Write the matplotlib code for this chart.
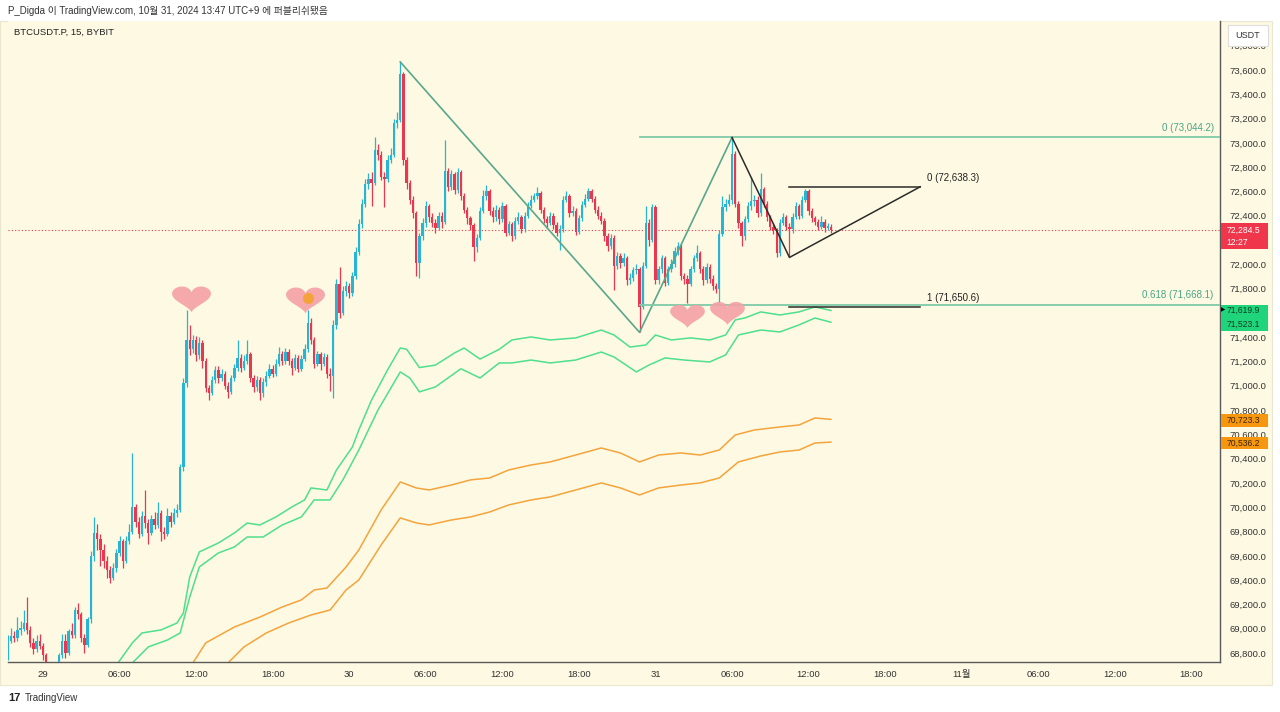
import numpy as np
import matplotlib.pyplot as plt
from matplotlib.path import Path
from matplotlib.patches import Rectangle

plt.rcParams['font.family'] = ['Liberation Sans', 'Noto Sans CJK KR']

# BTCUSDT.P 15분봉 (bar index 0 = 10/29 00:00, 첫 봉 = -11)
first_bar = -11
first_open = 68780
closes = [
    68900, 68940, 68920, 68990, 69000, 69050, 68990, 68880, 68830, 68900,
    68860, 68780, 68700, 68640, 68620, 68680, 68780, 68900, 68800, 68980,
    68950, 69150, 69120, 68920, 68870, 69080, 69600, 69790, 69740, 69650,
    69560, 69480, 69420, 69500, 69620, 69720, 69560, 69720, 69800, 70000,
    69880, 69780, 69930, 69870, 69790, 69900, 69850, 69950, 69800, 69780,
    69930, 69880, 69950, 69980, 70330, 71020, 71380, 71300, 71380, 71250,
    71350, 71200, 70980, 70940, 71050, 71130, 71060, 71100, 71000, 70950,
    71060, 71150, 71230, 71150, 71200, 71260, 71060, 70990, 71050, 70940,
    71030, 71080, 71140, 71100, 71180, 71260, 71200, 71280, 71200, 71150,
    71230, 71140, 71220, 71300, 71520, 71380, 71180, 71260, 71180, 71240,
    71100, 71080, 71500, 71840, 71600, 71780, 71820, 71760, 71900, 72100,
    72330, 72500, 72660, 72700, 72670, 72940, 72900, 72720, 72700, 72860,
    72900, 73160, 73190, 73570, 72860, 72670, 72530, 72420, 72010, 72230,
    72340, 72480, 72390, 72340, 72300, 72400, 72350, 72770, 72640, 72740,
    72610, 72760, 72560, 72450, 72380, 72320, 72140, 72220, 72440, 72560,
    72600, 72440, 72390, 72450, 72370, 72480, 72260, 72330, 72230, 72360,
    72390, 72290, 72400, 72480, 72530, 72560, 72590, 72450, 72370, 72340,
    72400, 72320, 72260, 72290, 72530, 72560, 72420, 72440, 72270, 72380,
    72490, 72540, 72600, 72540, 72450, 72400, 72360, 72230, 72150, 72220,
    71990, 72070, 72010, 72050, 71870, 71890, 71950, 71960, 71650, 71990,
    72340, 72200, 72470, 71870, 71960, 72050, 71850, 71960, 72000, 72110,
    72150, 71900, 71880, 71840, 71960, 72050, 72090, 71960, 71870, 71980,
    71880, 71820, 71800, 72250, 72470, 72500, 72530, 72910, 72500, 72340,
    72230, 72370, 72480, 72520, 72530, 72420, 72620, 72500, 72390, 72310,
    72280, 72090, 72340, 72390, 72310, 72290, 72390, 72480, 72400, 72530,
    72600, 72440, 72380, 72350, 72310, 72350, 72300, 72310, 72284.5,
]
highs = [
    68950, 69010, 68980, 69100, 69060, 69150, 69260, 69020, 68920, 68950,
    68960, 68880, 68800, 68720, 68680, 68710, 68800, 68960, 68960, 69000,
    69050, 69180, 69210, 69140, 68960, 69100, 69640, 69920, 69860, 69780,
    69700, 69600, 69520, 69540, 69660, 69760, 69740, 69760, 69860, 70450,
    70030, 69920, 69970, 70140, 69900, 69940, 69960, 70040, 69980, 69840,
    69990, 69960, 69990, 70030, 70360, 71060, 71620, 71500, 71420, 71410,
    71400, 71380, 71230, 71010, 71080, 71160, 71160, 71140, 71120, 71030,
    71090, 71180, 71380, 71260, 71250, 71380, 71280, 71090, 71080, 71070,
    71060, 71120, 71180, 71170, 71220, 71320, 71290, 71310, 71300, 71230,
    71260, 71250, 71250, 71340, 71620, 71560, 71400, 71290, 71280, 71270,
    71260, 71150, 71540, 71880, 71980, 71820, 71860, 71850, 71940, 72140,
    72370, 72540, 72700, 72750, 72760, 73050, 72990, 72930, 72760, 72900,
    72960, 73200, 73250, 73666, 73580, 72880, 72690, 72560, 72440, 72260,
    72380, 72520, 72500, 72420, 72370, 72430, 72430, 73020, 72790, 72780,
    72760, 72790, 72780, 72590, 72470, 72400, 72340, 72250, 72470, 72610,
    72650, 72620, 72470, 72490, 72470, 72510, 72500, 72360, 72350, 72390,
    72430, 72410, 72430, 72510, 72570, 72590, 72640, 72600, 72470, 72400,
    72430, 72420, 72350, 72320, 72560, 72600, 72580, 72480, 72460, 72410,
    72520, 72580, 72630, 72620, 72560, 72480, 72430, 72380, 72260, 72250,
    72240, 72100, 72090, 72090, 72070, 71930, 71980, 72000, 71980, 72020,
    72480, 72370, 72500, 72490, 71990, 72080, 72070, 71990, 72040, 72140,
    72180, 72170, 71930, 71910, 71990, 72080, 72160, 72110, 71990, 72010,
    72000, 71910, 71850, 72280, 72560, 72540, 72580, 73044.2, 72930, 72520,
    72360, 72400, 72510, 72720, 72570, 72560, 72750, 72640, 72520, 72410,
    72340, 72300, 72370, 72420, 72410, 72340, 72420, 72510, 72500, 72560,
    72620, 72620, 72460, 72400, 72370, 72400, 72370, 72340, 72330,
]
lows = [
    68740, 68880, 68890, 68900, 68950, 68980, 68960, 68850, 68790, 68810,
    68830, 68740, 68660, 68600, 68580, 68600, 68660, 68760, 68760, 68780,
    68920, 68920, 69080, 68890, 68800, 68850, 69050, 69560, 69650, 69520,
    69500, 69420, 69380, 69400, 69470, 69600, 69500, 69540, 69700, 69780,
    69840, 69750, 69760, 69830, 69700, 69770, 69820, 69830, 69720, 69740,
    69760, 69840, 69860, 69920, 69960, 70300, 70990, 71250, 71270, 71200,
    71220, 71150, 70950, 70880, 70920, 71020, 71020, 71040, 70970, 70900,
    70930, 71040, 71120, 71110, 71130, 71180, 71030, 70950, 70960, 70880,
    70910, 71000, 71060, 71070, 71080, 71160, 71170, 71180, 71170, 71090,
    71130, 71110, 71120, 71200, 71280, 71340, 71150, 71160, 71130, 71160,
    71060, 70960, 70900, 71470, 71560, 71580, 71740, 71720, 71740, 71880,
    72080, 72300, 72470, 72620, 72480, 72650, 72860, 72690, 72470, 72680,
    72830, 72880, 73120, 73170, 72820, 72620, 72500, 72380, 71900, 71890,
    72200, 72310, 72350, 72310, 72260, 72280, 72300, 72330, 72600, 72610,
    72580, 72590, 72530, 72420, 72330, 72280, 72030, 72100, 72200, 72420,
    72530, 72410, 72350, 72360, 72330, 72350, 72230, 72240, 72190, 72210,
    72330, 72260, 72270, 72380, 72460, 72510, 72540, 72420, 72340, 72300,
    72320, 72290, 72230, 72120, 72270, 72510, 72390, 72400, 72240, 72250,
    72360, 72470, 72520, 72510, 72420, 72370, 72330, 72190, 72110, 72130,
    71790, 71960, 71970, 71990, 71830, 71840, 71860, 71920, 71440, 71630,
    71970, 72150, 72180, 71840, 71840, 71930, 71820, 71830, 71940, 71980,
    72080, 71870, 71840, 71680, 71820, 71940, 72030, 71930, 71830, 71850,
    71850, 71790, 71760, 71680, 72230, 72440, 72480, 72500, 72470, 72300,
    72150, 72200, 72350, 72450, 72480, 72390, 72400, 72470, 72360, 72280,
    72250, 72060, 72070, 72320, 72280, 72056.5, 72260, 72370, 72370, 72380,
    72510, 72410, 72350, 72320, 72280, 72290, 72270, 72280, 72260,
]

# 밴드 (bar index, 가격)
green_hi_idx = [23, 28, 31, 37, 42, 44, 46, 49, 55, 60, 64, 68, 73, 78, 82, 84, 89, 92, 97, 99,
                103, 108, 112, 114, 118, 123, 129, 132, 137, 143, 147, 153, 159, 167, 175, 179,
                184, 189, 192, 197, 203, 209, 214, 217, 220, 225, 231, 237, 242, 247]
green_hi = [68700, 68883, 68965, 68990, 69047, 69130, 69426, 69632, 69706, 69788,
            69870, 69854, 69920, 70002, 70060, 70159, 70142, 70307, 70496, 70636,
            70883, 71130, 71311, 71300, 71150, 71170, 71270, 71311, 71220, 71300,
            71377, 71402, 71377, 71394, 71459, 71418, 71319, 71336, 71418, 71377,
            71394, 71377, 71418, 71542, 71558, 71608, 71583, 71608, 71649, 71619.9]
green_lo_idx = [28, 33, 39, 43, 46, 49, 55, 60, 64, 69, 75, 81, 85, 90, 94, 99, 105, 112, 115, 118,
                123, 131, 137, 143, 147, 153, 159, 167, 175, 179, 186, 190, 195, 201, 209, 214,
                218, 225, 231, 237, 242, 247]
green_lo = [68718, 68850, 68907, 68965, 69261, 69508, 69624, 69673, 69755, 69755,
            69854, 69920, 70060, 70060, 70225, 70471, 70800, 71114, 71064, 70950,
            70990, 71140, 71064, 71188, 71188, 71212, 71188, 71212, 71278, 71237,
            71114, 71171, 71229, 71212, 71196, 71254, 71418, 71459, 71443, 71501,
            71558, 71523.1]
orange_hi_idx = [47, 51, 60, 68, 75, 81, 85, 89, 95, 99, 106, 112, 117, 121, 128, 134, 140, 146,
                 153, 159, 167, 175, 181, 187, 193, 200, 206, 212, 217, 223, 231, 237, 242, 247]
orange_hi = [68718, 68883, 69014, 69096, 69179, 69237, 69319, 69335, 69508, 69648,
             69978, 70208, 70159, 70142, 70183, 70225, 70241, 70307, 70348, 70373,
             70430, 70488, 70447, 70373, 70430, 70447, 70430, 70471, 70595, 70636,
             70661, 70677, 70735, 70723.3]
orange_lo_idx = [58, 63, 70, 77, 84, 90, 95, 99, 106, 112, 117, 121, 128, 134, 140, 146, 153, 159,
                 167, 175, 181, 187, 193, 200, 206, 212, 218, 225, 231, 237, 242, 247]
orange_lo = [68718, 68850, 68965, 69047, 69113, 69154, 69319, 69401, 69690, 69912,
             69871, 69854, 69895, 69920, 69961, 70019, 70060, 70085, 70142, 70200,
             70159, 70101, 70159, 70183, 70200, 70241, 70373, 70422, 70455, 70471,
             70529, 70536.2]

# 작도
teal_idx = [112, 187, 216]
teal_px = [73666, 71440, 73044.2]
black_idx = [216, 234, 275]
black_px = [73044.2, 72056.5, 72638.3]
teal_fib = [("0", 73044.2), ("0.618", 71668.1)]
black_fib = [("0", 72638.3), ("1", 71650.6)]

hearts_idx = [46.5, 82, 202, 214.5]
hearts_px = [71715, 71707, 71575, 71600]

time_labels = ['29', '06:00', '12:00', '18:00', '30', '06:00', '12:00', '18:00',
               '31', '06:00', '12:00', '18:00', '11월', '06:00', '12:00', '18:00']
countdown = '12:27'

UP = '#27b5d3'
DN = '#e8374f'
CREAM = '#fdf9e3'
TEAL = '#5aa78c'
TEAL_L = '#7fcaa9'
W, H = 1280, 712

fig = plt.figure(figsize=(12.8, 7.12), dpi=100)
fig.patch.set_facecolor('white')
fig.add_artist(Rectangle((0, 27 / H), 1272 / W, 664 / H, transform=fig.transFigure,
                         facecolor=CREAM, edgecolor='#ebe6cf', lw=0.8, zorder=-5))

ax = fig.add_axes([8 / W, 50 / H, 1212 / W, 641 / H])
ax.set_facecolor(CREAM)
ax.set_xlim(-10.97, 368.97)
ax.set_ylim(68726, 74003)

closes = np.array(closes, dtype=float)
x = np.arange(first_bar, first_bar + len(closes))
opens = np.r_[first_open, closes[:-1]]
up = closes >= opens
cols = np.where(up, UP, DN)
ax.vlines(x, lows, highs, colors=cols, lw=0.9, zorder=3)
body = np.maximum(np.abs(closes - opens), 12)
ax.bar(x, body, bottom=np.minimum(opens, closes), width=0.74, color=cols, lw=0, zorder=3)

ax.plot(green_hi_idx, green_hi, color='#4fdf8d', lw=1.1, zorder=2)
ax.plot(green_lo_idx, green_lo, color='#4fdf8d', lw=1.1, zorder=2)
ax.plot(orange_hi_idx, orange_hi, color='#f4a43c', lw=1.1, zorder=2)
ax.plot(orange_lo_idx, orange_lo, color='#f4a43c', lw=1.1, zorder=2)

ax.axhline(closes[-1], color=DN, lw=0.8, ls=(0, (1, 2)), zorder=2)

# 피보나치 / 추세선
ax.plot(teal_idx, teal_px, color=TEAL, lw=1.2, zorder=4)
for name, lv in teal_fib:
    ax.plot([teal_idx[1], 369], [lv, lv], color=TEAL_L, lw=1.3, zorder=4)
    ax.annotate(f"{name} ({lv:,.1f})", (367, lv), xytext=(0, 3), textcoords='offset points',
                ha='right', va='bottom', fontsize=7, color='#4aa585')
ax.plot(black_idx, black_px, color='#2b2b2b', lw=1.1, zorder=4)
for name, lv in black_fib:
    ax.plot([black_idx[1], black_idx[2]], [lv, lv], color='#2b2b2b', lw=1.1, zorder=4)
    ax.annotate(f"{name} ({lv:,.1f})", (black_idx[2], lv), xytext=(5, 3),
                textcoords='offset points', ha='left', va='bottom', fontsize=7, color='#222')

# 하트
t = np.linspace(0, 2 * np.pi, 80)
hx = 16 * np.sin(t) ** 3 * 1.35
hy = 13 * np.cos(t) - 5 * np.cos(2 * t) - 2 * np.cos(3 * t) - np.cos(4 * t) + 2.5
heart = Path(np.column_stack([hx, hy]))
for k, (hi, hp) in enumerate(zip(hearts_idx, hearts_px)):
    ax.plot(hi, hp, marker=heart, ms=28 if k < 2 else 25, color='#f5a0a4', mec='none',
            alpha=0.9, ls='none', zorder=5)
ax.plot(hearts_idx[1] + 1.2, hearts_px[1] + 15, marker='o', ms=8, color='#f3a33a',
        mec='none', zorder=6)

# 가격 태그 범위 (태그에 가려지는 눈금 라벨은 생략)
last = closes[-1]
tags = [
    (last - 158, last + 56, '#f0364a', [(f"{last:,.1f}", last - 4), (countdown, last - 106)], 'white'),
    (green_lo[-1] - 72, green_hi[-1] + 45, '#1fd47b',
     [(f"{green_hi[-1]:,.1f}", green_hi[-1] + 4), (f"{green_lo[-1]:,.1f}", green_lo[-1] - 16)], '#0d3d22'),
    (orange_hi[-1] - 62, orange_hi[-1] + 45, '#f7960f', [(f"{orange_hi[-1]:,.1f}", orange_hi[-1] - 5)], '#3a2500'),
    (orange_lo[-1] - 56, orange_lo[-1] + 43, '#f7960f', [(f"{orange_lo[-1]:,.1f}", orange_lo[-1] - 6)], '#3a2500'),
]

# 축
ax.yaxis.tick_right()
yt = np.arange(68800, 73801, 200)
hidden = [v for v in yt if any(lo + 40 < v < hi - 20 for lo, hi, *_ in tags[:2])]
ax.set_yticks(yt)
ax.set_yticklabels(['' if v in hidden else f"{v:,.1f}" for v in yt])
ax.set_xticks(np.arange(0, 24 * len(time_labels), 24))
ax.set_xticklabels(time_labels)
ax.tick_params(axis='y', length=0, pad=7, labelsize=6.8, labelcolor='#333')
ax.tick_params(axis='x', length=0, pad=6, labelsize=6.8, labelcolor='#333')
for s in ['left', 'top']:
    ax.spines[s].set_visible(False)
for s in ['bottom', 'right']:
    ax.spines[s].set_color('#5a5a5a')
    ax.spines[s].set_linewidth(1.0)

ytr = ax.get_yaxis_transform()
for lo, hi, color, texts, tcolor in tags:
    ax.add_patch(Rectangle((1.0008, lo), 0.0388, hi - lo, transform=ytr, facecolor=color,
                           edgecolor='none', clip_on=False, zorder=10))
    for s, yv in texts:
        ax.text(1.0055, yv, s, transform=ytr, fontsize=6.2, color=tcolor,
                va='center', ha='left', clip_on=False, zorder=11)
ax.text(1.0008, green_hi[-1] + 4, '▶', transform=ytr, fontsize=4, color='black', va='center',
        ha='left', clip_on=False, zorder=12, family='DejaVu Sans')

# 텍스트
def px(xp, yp):
    return xp / W, 1 - yp / H

fig.add_artist(Rectangle(px(1228, 46), 40 / W, 21 / H, transform=fig.transFigure,
                         facecolor='white', edgecolor='#dddddd', lw=0.8, zorder=20))
fig.text(*px(1248, 35), 'USDT', fontsize=6.5, color='#333', ha='center', va='center', zorder=21)
fig.text(*px(8, 11), 'P_Digda 이 TradingView.com, 10월 31, 2024 13:47 UTC+9 에 퍼블리쉬됐음',
         fontsize=7, color='#333', va='center')
fig.text(*px(14, 32), 'BTCUSDT.P, 15, BYBIT', fontsize=6.8, color='#222', va='center')
fig.text(*px(8, 698), '17', fontsize=8, fontweight='bold', color='#222', va='center')
fig.text(*px(25, 698), 'TradingView', fontsize=7, color='#333', va='center')

fig.savefig('out.png', dpi=100)
